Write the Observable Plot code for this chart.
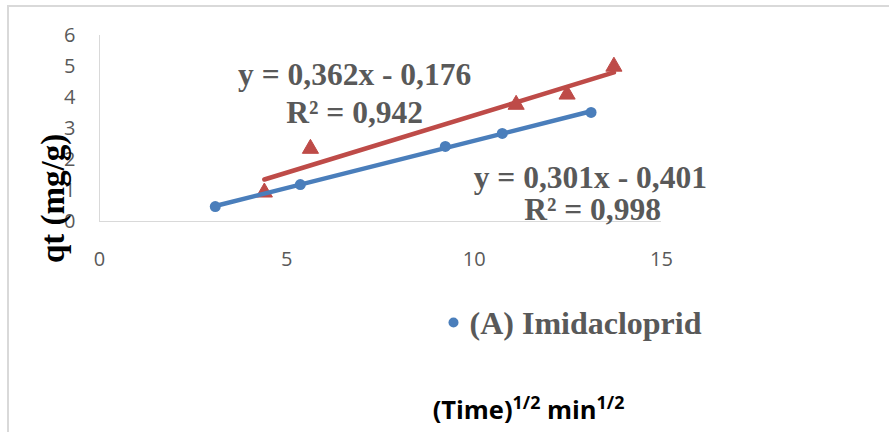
<!DOCTYPE html>
<html>
<head>
<meta charset="utf-8">
<script src="https://cdn.jsdelivr.net/npm/d3@7"></script>
<script src="https://cdn.jsdelivr.net/npm/@observablehq/plot@0.6"></script>
<style>
  html, body { margin: 0; padding: 0; background: #fff; }
  #wrap { position: relative; width: 889px; height: 432px; overflow: hidden; }
  #border { position: absolute; left: 7px; top: 5px; width: 1000px; height: 1000px;
            border-left: 2px solid #d9d9d9; border-top: 2px solid #d9d9d9; }
  #chart { position: absolute; left: 0; top: 0; }
</style>
</head>
<body>
<div id="wrap"><div id="border"></div><div id="chart"></div></div>
<script>
// ---- data ----
const xTicks = [0, 5, 10, 15];
const yTicks = [0, 1, 2, 3, 4, 5, 6];
const imidX = [3.09, 5.36, 9.23, 10.75, 13.12];
const imidY = [0.48, 1.19, 2.42, 2.84, 3.52];
const secondX = [4.40, 5.63, 11.12, 12.48, 13.73];
const secondY = [0.94, 2.35, 3.77, 4.10, 5.00];
const eqLines = ["y = 0,362x - 0,176", "R² = 0,942", "y = 0,301x - 0,401", "R² = 0,998"];
const legendLabel = "(A) Imidacloprid";
const yTitle = "qt (mg/g)";
const xTitle = "(Time)1/2 min1/2";

// ---- build tables ----
const imid = imidX.map((x, i) => ({x, y: imidY[i]}));
const second = secondX.map((x, i) => ({x, y: secondY[i]}));
const annot = [
  {t: eqLines[0], x: 6.81, y: 4.39},
  {t: eqLines[1], x: 6.81, y: 3.19},
  {t: eqLines[2], x: 13.10, y: 1.07},
  {t: eqLines[3], x: 13.16, y: 0.04}
];

const blue = "#4a7ebb";
const red = "#be4b48";
const gray = "#595959";
const axisGray = "#d9d9d9";
const serif = "'Liberation Serif', 'Times New Roman', serif";
const sans = "'Open Sans', 'Liberation Sans', sans-serif";

const chart = Plot.plot({
  width: 889,
  height: 432,
  marginLeft: 99,
  marginRight: 228,
  marginTop: 35,
  marginBottom: 211,
  style: {background: "transparent", color: gray, overflow: "visible"},
  x: {domain: [0, 15]},
  y: {domain: [0, 6]},
  marks: [
    Plot.ruleX([0], {y1: 0, y2: 6, stroke: axisGray, strokeWidth: 1}),
    Plot.ruleY([0], {x1: 0, x2: 15, stroke: axisGray, strokeWidth: 1}),
    Plot.axisX(xTicks, {tickSize: 0, tickPadding: 30, fontSize: 20, fontFamily: sans, fill: gray, label: null}),
    Plot.axisY(yTicks, {tickSize: 0, tickPadding: 24, fontSize: 20, fontFamily: sans, fill: gray, label: null}),
    Plot.linearRegressionY(second, {x: "x", y: "y", ci: 0, stroke: red, strokeWidth: 4.5}),
    Plot.dot(second, {x: "x", y: "y", symbol: "triangle", r: 6, fill: red, stroke: red, strokeWidth: 1}),
    Plot.linearRegressionY(imid, {x: "x", y: "y", ci: 0, stroke: blue, strokeWidth: 4.5}),
    Plot.dot(imid, {x: "x", y: "y", r: 5.5, fill: blue}),
    Plot.text(annot, {x: "x", y: "y", text: "t", textAnchor: "middle", lineAnchor: "bottom",
      fontFamily: serif, fontWeight: "bold", fontSize: 31.5, fill: gray}),
    Plot.text([yTitle], {frameAnchor: "left", dx: -46, dy: 70, rotate: -90, textAnchor: "middle",
      fontFamily: serif, fontWeight: "bold", fontSize: 33, fill: "#000"}),
    Plot.dot([legendLabel], {frameAnchor: "top-left", dx: 354, dy: 287, r: 5, fill: blue}),
    Plot.text([legendLabel], {frameAnchor: "top-left", dx: 370, dy: 298, textAnchor: "start", lineAnchor: "bottom",
      fontFamily: serif, fontWeight: "bold", fontSize: 32, fill: gray}),
    Plot.text([xTitle], {frameAnchor: "top-left", dx: 429, dy: 383, textAnchor: "middle", lineAnchor: "bottom",
      fontFamily: sans, fontWeight: "bold", fontSize: 25.5, fill: "#000", className: "xtitle"})
  ]
});
document.getElementById("chart").appendChild(chart);

// superscripts for the x-axis title
d3.select(chart).selectAll(".xtitle text").each(function() {
  const t = d3.select(this);
  t.text(null);
  t.append("tspan").text("(Time)");
  t.append("tspan").attr("dy", "-10px").attr("font-size", "0.7em").text("1/2");
  t.append("tspan").attr("dy", "10px").text(" min");
  t.append("tspan").attr("dy", "-10px").attr("font-size", "0.7em").text("1/2");
});
</script>
</body>
</html>
